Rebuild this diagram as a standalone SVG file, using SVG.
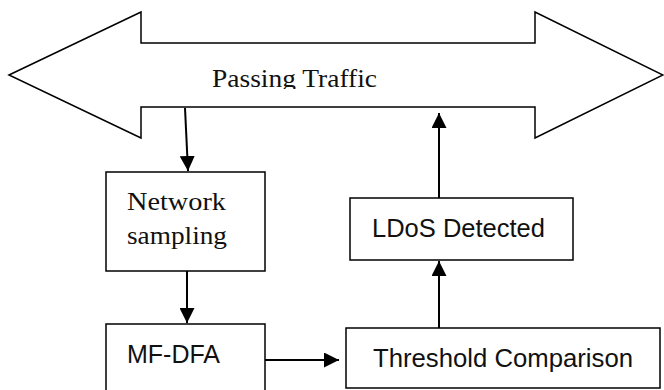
<svg xmlns="http://www.w3.org/2000/svg" width="664" height="390" viewBox="0 0 664 390">
<style>
.box{fill:#fff;stroke:#000;stroke-width:1.5}
.serif{font-family:"Liberation Serif","Times New Roman",serif;font-size:25px;fill:#111}
.sans{font-family:"Liberation Sans",Arial,sans-serif;font-size:25px;fill:#111}
.conn{stroke:#000;stroke-width:2;fill:none}
</style>
<defs>
<marker id="ah" viewBox="0 0 15 15" refX="15" refY="7.5" markerWidth="15" markerHeight="15" markerUnits="userSpaceOnUse" orient="auto">
<path d="M0,0 L15,7.5 L0,15 Z" fill="#000"/>
</marker>
<clipPath id="clipTxt"><rect x="150" y="55" width="300" height="34"/></clipPath>
</defs>
<g id="passing-traffic">
<path class="box" d="M9,75 L141,12 L141,43 L535,43 L535,12 L663,75 L535,138 L535,107 L141,107 L141,138 Z"/>
<text class="serif" x="212" y="87" font-size="26" textLength="165" lengthAdjust="spacingAndGlyphs" clip-path="url(#clipTxt)">Passing Traffic</text>
</g>
<g id="network-sampling">
<rect class="box" x="106" y="172" width="159" height="99"/>
<text class="serif" x="127" y="210" textLength="99" lengthAdjust="spacingAndGlyphs">Network</text>
<text class="serif" x="127" y="244" textLength="100" lengthAdjust="spacingAndGlyphs">sampling</text>
</g>
<g id="mf-dfa">
<rect class="box" x="106" y="324" width="159" height="80"/>
<text class="sans" x="127" y="363">MF-DFA</text>
</g>
<g id="threshold-comparison">
<rect class="box" x="346" y="328" width="314" height="60"/>
<text class="sans" x="373" y="367" textLength="260" lengthAdjust="spacingAndGlyphs">Threshold Comparison</text>
</g>
<g id="ldos-detected">
<rect class="box" x="350" y="198" width="223" height="62"/>
<text class="sans" x="372" y="237" textLength="173" lengthAdjust="spacingAndGlyphs">LDoS Detected</text>
</g>
<g id="connectors">
<line class="conn" x1="185" y1="108" x2="188" y2="171" marker-end="url(#ah)"/>
<line class="conn" x1="187" y1="271" x2="187" y2="323" marker-end="url(#ah)"/>
<line class="conn" x1="265" y1="360" x2="339" y2="360" marker-end="url(#ah)"/>
<line class="conn" x1="439" y1="328" x2="439" y2="261" marker-end="url(#ah)"/>
<line class="conn" x1="439" y1="198" x2="439" y2="113" marker-end="url(#ah)"/>
</g>
</svg>
